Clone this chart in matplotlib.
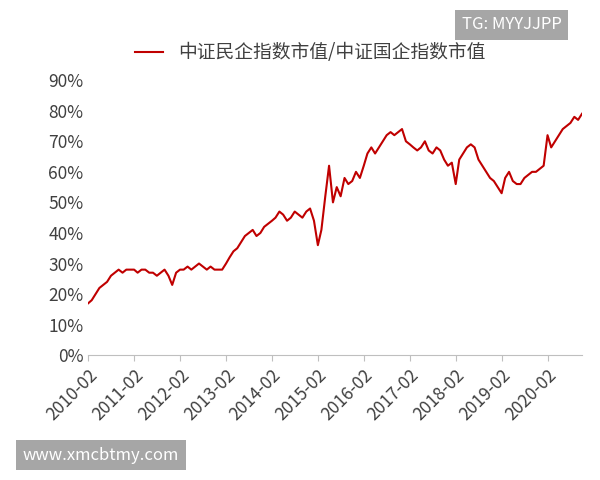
import matplotlib.pyplot as plt
import pandas as pd

plt.rcParams['font.family'] = ['Noto Sans CJK SC', 'DejaVu Sans']

# monthly ratio (%), 2010-02 .. 2020-11
ratio = [
    17, 18, 20, 22, 23, 24, 26, 27, 28, 27, 28,
    28, 28, 27, 28, 28, 27, 27, 26, 27, 28, 26, 23,
    27, 28, 28, 29, 28, 29, 30, 29, 28, 29, 28, 28,
    28, 30, 32, 34, 35, 37, 39, 40, 41, 39, 40, 42,
    43, 44, 45, 47, 46, 44, 45, 47, 46, 45, 47, 48,
    44, 36, 41, 52, 62, 50, 55, 52, 58, 56, 57, 60,
    58, 62, 66, 68, 66, 68, 70, 72, 73, 72, 73, 74,
    70, 69, 68, 67, 68, 70, 67, 66, 68, 67, 64, 62,
    63, 56, 64, 66, 68, 69, 68, 64, 62, 60, 58, 57,
    55, 53, 58, 60, 57, 56, 56, 58, 59, 60, 60, 61,
    62, 72, 68, 70, 72, 74, 75, 76, 78, 77, 79,
]
dates = pd.date_range('2010-02-01', periods=len(ratio), freq='MS')
tick_dates = pd.date_range('2010-02-01', '2020-02-01', freq='12MS')
tick_labels = [d.strftime('%Y-%m') for d in tick_dates]

fig = plt.figure(figsize=(6, 4.8), dpi=100)
ax = fig.add_axes([0.147, 0.26, 0.823, 0.573])
ax.plot(dates, ratio, color='#C00000', lw=1.5, label='中证民企指数市值/中证国企指数市值')
ax.set_ylim(0, 90)
ax.set_yticks(range(0, 91, 10))
ax.set_yticklabels([f'{v}%' for v in range(0, 91, 10)], fontsize=12.5, color='#404040')
ax.set_xlim(dates[0], dates[-1])
ax.set_xticks(tick_dates)
ax.set_xticklabels(tick_labels, rotation=45, ha='right', rotation_mode='anchor',
                   fontsize=12.5, color='#404040')
for s in ['top', 'right', 'left']:
    ax.spines[s].set_visible(False)
ax.spines['bottom'].set_color('#bfbfbf')
ax.tick_params(axis='y', length=0)
ax.tick_params(axis='x', color='#bfbfbf', length=4)
ax.legend(loc='lower center', bbox_to_anchor=(0.45, 1.0), frameon=False, fontsize=13.5,
          handlelength=1.5, labelcolor='#404040')

fig.text(0.853, 0.948, 'TG: MYYJJPP', fontsize=12, color='white', ha='center', va='center',
         bbox=dict(boxstyle='square,pad=0.4', fc='#a6a6a6', ec='none'))
fig.text(0.168, 0.052, 'www.xmcbtmy.com', fontsize=12, color='white', ha='center', va='center',
         bbox=dict(boxstyle='square,pad=0.4', fc='#a6a6a6', ec='none'))
fig.savefig('out.png')
